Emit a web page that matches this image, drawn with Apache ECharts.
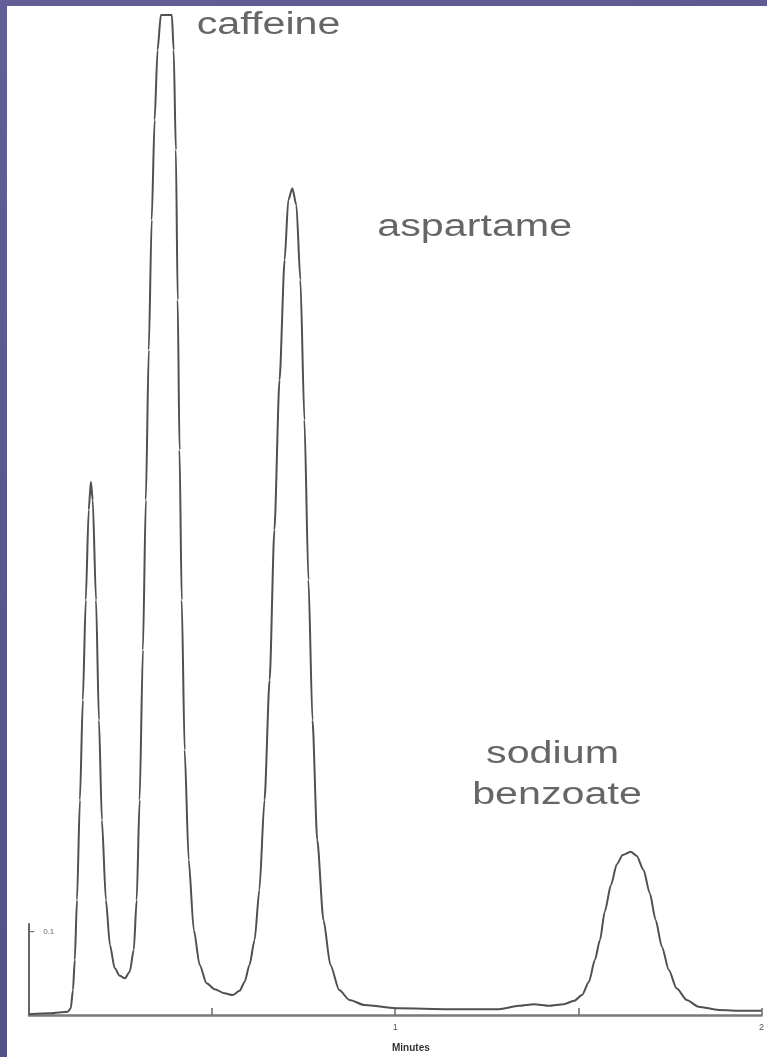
<!DOCTYPE html>
<html>
<head>
<meta charset="utf-8">
<script src="https://cdn.jsdelivr.net/npm/echarts@6/dist/echarts.min.js"></script>
<style>
  html, body { margin: 0; padding: 0; width: 767px; height: 1057px; overflow: hidden;
    background: linear-gradient(160deg, #625e98 0%, #58558e 50%, #4f4d86 100%); }
  #chart { position: absolute; left: 7px; top: 6px; width: 760px; height: 1051px; background: #ffffff; }
</style>
</head>
<body>
<div id="chart"></div>
<script>
// Retention time (minutes) of each trace sample
const times = [
  0.000, 0.057, 0.106, 0.114, 0.120, 0.125, 0.131, 0.139, 0.147, 0.155, 0.163, 0.169,
  0.174, 0.183, 0.191, 0.199, 0.210, 0.221, 0.234, 0.248, 0.262, 0.275, 0.286, 0.294,
  0.302, 0.311, 0.319, 0.327, 0.335, 0.343, 0.351, 0.360, 0.390, 0.395, 0.401, 0.406,
  0.411, 0.417, 0.425, 0.436, 0.450, 0.466, 0.485, 0.507, 0.534, 0.556, 0.575, 0.589,
  0.602, 0.616, 0.629, 0.643, 0.657, 0.670, 0.684, 0.698, 0.708, 0.719, 0.730, 0.741,
  0.752, 0.763, 0.774, 0.787, 0.804, 0.823, 0.847, 0.875, 0.916, 1.011, 1.147, 1.283,
  1.338, 1.379, 1.420, 1.460, 1.488, 1.510, 1.529, 1.545, 1.559, 1.572, 1.589, 1.605,
  1.621, 1.643, 1.659, 1.678, 1.695, 1.711, 1.728, 1.747, 1.768, 1.796, 1.828, 1.883,
  1.951, 2.000
];
// Detector absorbance (AU) at each time; caffeine saturates at the top of the range
const absorbance = [
  0.001, 0.002, 0.004, 0.008, 0.030, 0.066, 0.138, 0.258, 0.378, 0.498, 0.606, 0.640,
  0.618, 0.498, 0.354, 0.234, 0.138, 0.084, 0.056, 0.047, 0.044, 0.052, 0.078, 0.138,
  0.258, 0.438, 0.618, 0.798, 0.954, 1.074, 1.158, 1.200, 1.200, 1.158, 1.038, 0.858,
  0.678, 0.498, 0.318, 0.186, 0.102, 0.060, 0.038, 0.031, 0.026, 0.024, 0.029, 0.040,
  0.060, 0.090, 0.150, 0.258, 0.402, 0.582, 0.762, 0.906, 0.978, 0.992, 0.972, 0.882,
  0.714, 0.522, 0.354, 0.210, 0.114, 0.060, 0.030, 0.018, 0.012, 0.008, 0.007, 0.007,
  0.011, 0.013, 0.011, 0.013, 0.017, 0.024, 0.040, 0.066, 0.090, 0.124, 0.156, 0.181,
  0.192, 0.196, 0.191, 0.174, 0.146, 0.114, 0.082, 0.054, 0.032, 0.018, 0.010, 0.006,
  0.005, 0.005
];
// Peak names and where each label sits (time of its left edge, absorbance of its middle)
const peakNames = ['caffeine', 'aspartame', 'sodium', 'benzoate'];
const peakLabelTimes = [0.458, 0.951, 1.248, 1.210];
const peakLabelLevels = [1.187, 0.945, 0.313, 0.263];
// Axis ticks and the vertical absorbance scale bar
const timeTicksShown = [1, 2];
const scaleBarTop = 0.11;
const scaleBarValue = 0.1;

const trace = times.map((t, i) => [t, absorbance[i]]);

const chart = echarts.init(document.getElementById('chart'), null, { renderer: 'canvas' });

chart.setOption({
  animation: false,
  backgroundColor: '#ffffff',
  grid: { left: 22, right: 4, top: 9, bottom: 42 },
  xAxis: {
    type: 'value',
    min: 0,
    max: 2,
    interval: 0.5,
    splitLine: { show: false },
    axisLine: { show: true, lineStyle: { color: '#7a7a7a', width: 2.5 } },
    axisTick: { show: true, inside: true, length: 7, lineStyle: { color: '#6a6a6a', width: 1.5 } },
    axisLabel: {
      fontSize: 9, color: '#555', margin: 8, fontFamily: 'Liberation Sans',
      formatter: v => (timeTicksShown.indexOf(v) >= 0 ? String(v) : '')
    }
  },
  yAxis: {
    type: 'value',
    min: 0,
    max: 1.2,
    show: false
  },
  series: [
    {
      name: 'trace',
      type: 'line',
      data: trace,
      showSymbol: false,
      smooth: 0.25,
      smoothMonotone: 'x',
      lineStyle: { color: '#505050', width: 2 },
      z: 3
    },
    {
      name: 'scale bar',
      type: 'line',
      data: [[0, 0], [0, scaleBarTop]],
      showSymbol: false,
      lineStyle: { color: '#666', width: 2 },
      z: 2
    },
    {
      name: 'scale tick',
      type: 'line',
      data: [[0, scaleBarValue], [0.014, scaleBarValue]],
      showSymbol: false,
      lineStyle: { color: '#777', width: 1.2 },
      endLabel: {
        show: true,
        formatter: String(scaleBarValue),
        fontSize: 8,
        color: '#666',
        distance: 9,
        fontFamily: 'Liberation Sans'
      },
      z: 2
    }
  ]
});

// Peak names, placed through the grid's scales and stretched wide as in the figure
const labelGraphics = peakNames.map((name, i) => {
  const p = chart.convertToPixel({ gridIndex: 0 }, [peakLabelTimes[i], peakLabelLevels[i]]);
  return {
    type: 'text',
    x: p[0],
    y: p[1],
    scaleX: 1.33,
    silent: true,
    z: 10,
    style: {
      text: name,
      font: '31px "Liberation Sans"',
      fill: '#666666',
      textAlign: 'left',
      textVerticalAlign: 'middle'
    }
  };
});

chart.setOption({
  graphic: labelGraphics.concat([
    {
      type: 'text',
      left: 385,
      top: 1037,
      style: { text: 'Minutes', font: 'bold 10px "Liberation Sans"', fill: '#333' }
    }
  ])
});
</script>
</body>
</html>
